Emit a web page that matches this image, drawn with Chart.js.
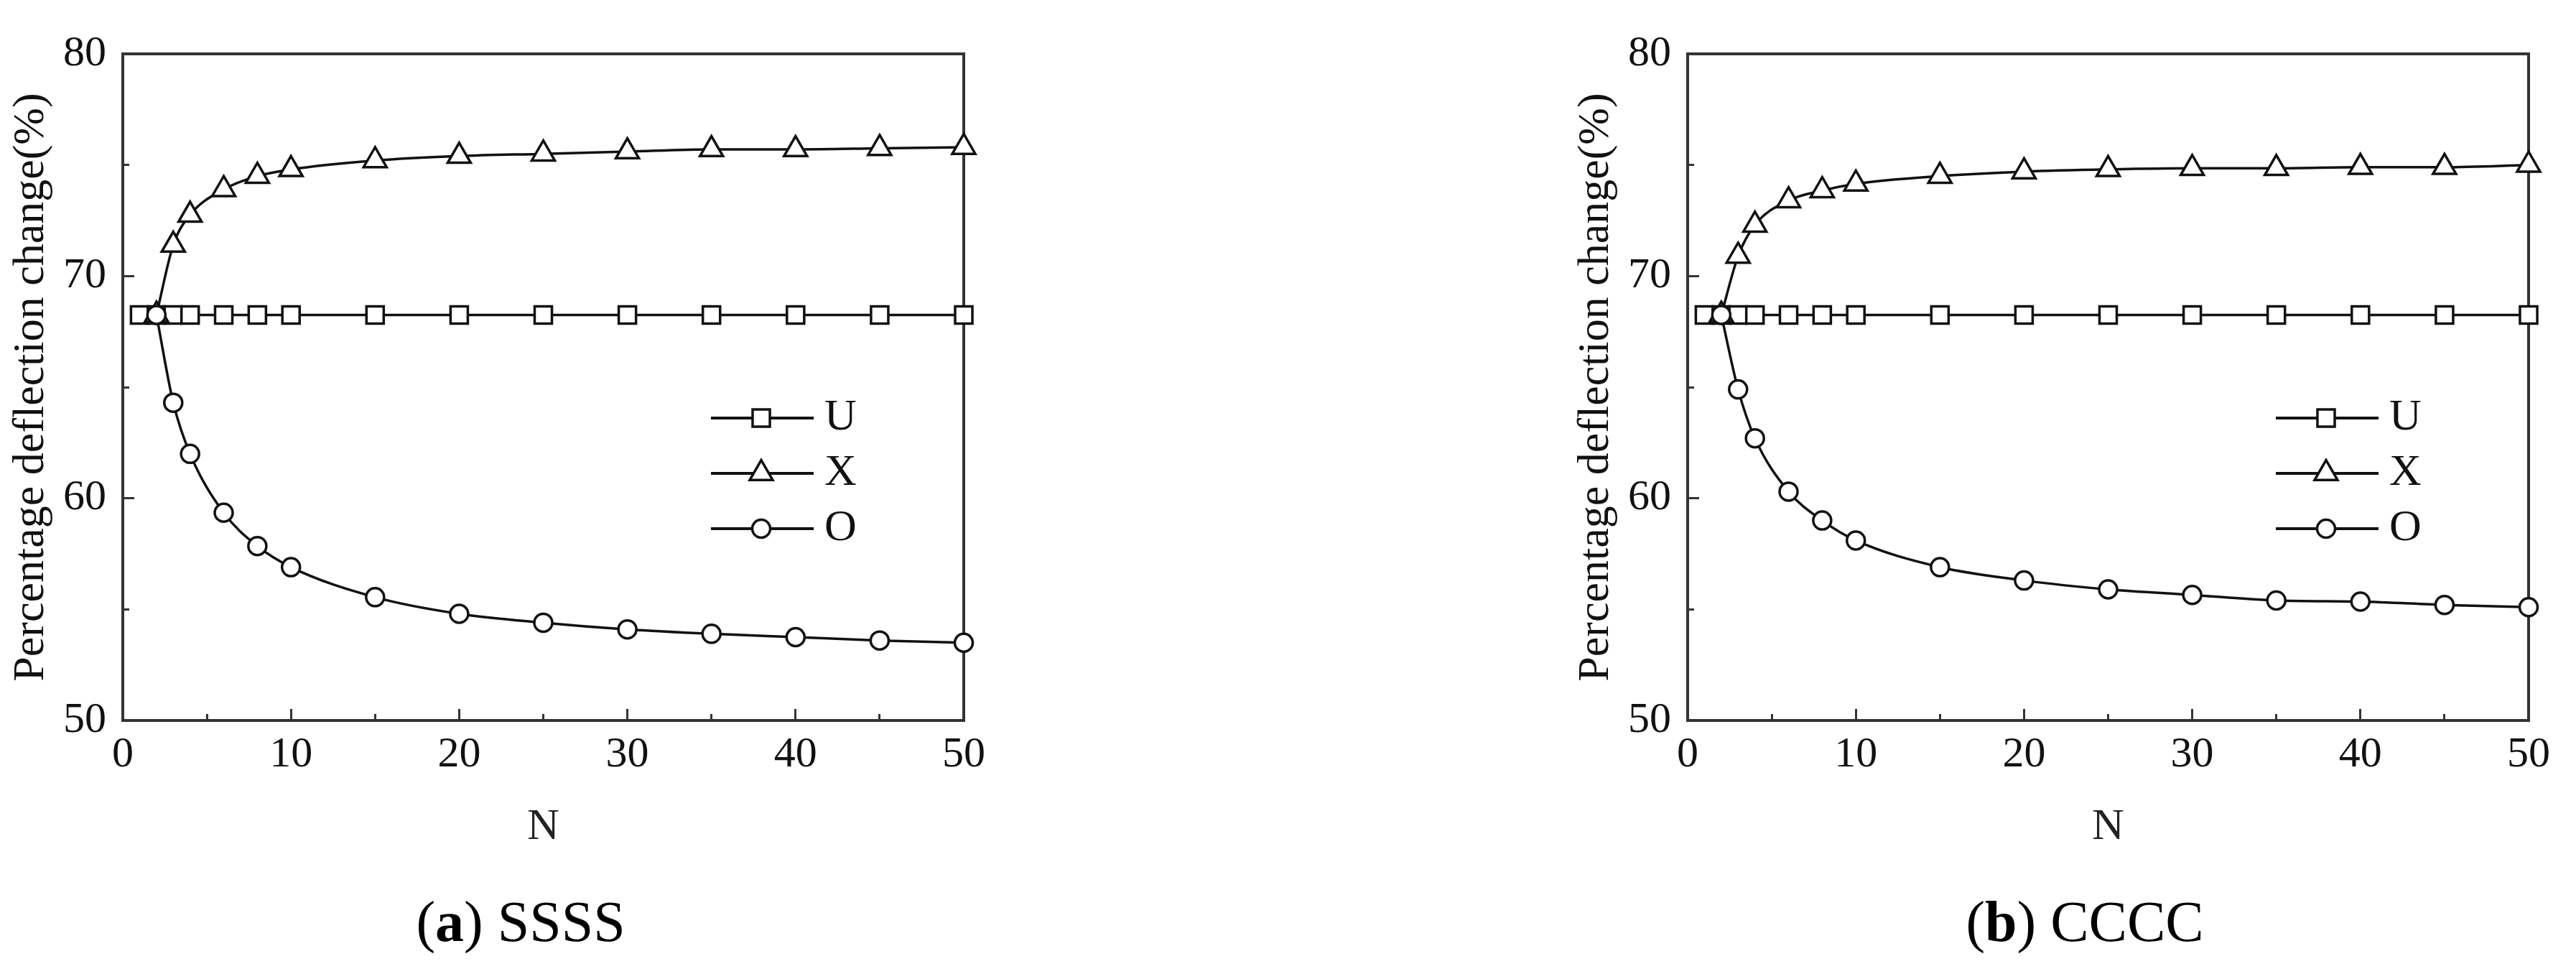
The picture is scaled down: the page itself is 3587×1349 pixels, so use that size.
<!DOCTYPE html>
<html>
<head>
<meta charset="utf-8">
<script src="https://cdn.jsdelivr.net/npm/chart.js@4/dist/chart.umd.min.js"></script>
<style>
  html, body { margin: 0; padding: 0; background: #fff; width: 3587px; height: 1349px; overflow: hidden; }
  canvas { position: absolute; top: 0; }
  .cap { position: absolute; top: 1243px; width: 700px; text-align: center;
         font-family: 'Liberation Serif', serif; font-size: 80px; line-height: 1; color: #000; }
</style>
</head>
<body>
<canvas id="c1" width="1400" height="1349" style="left:0px"></canvas>
<canvas id="c2" width="1400" height="1349" style="left:2179px"></canvas>
<div class="cap" style="left:375px">(<b>a</b>) SSSS</div>
<div class="cap" style="left:2553px">(<b>b</b>) CCCC</div>
<script>
// ---------------- data ----------------
const nU = [1, 2, 3, 4, 6, 8, 10, 15, 20, 25, 30, 35, 40, 45, 50];
const nXO = [2, 3, 4, 6, 8, 10, 15, 20, 25, 30, 35, 40, 45, 50];

const ssssU = [68.25, 68.25, 68.25, 68.25, 68.25, 68.25, 68.25, 68.25, 68.25, 68.25, 68.25, 68.25, 68.25, 68.25, 68.25];
const ssssX = [68.25, 71.4, 72.75, 73.9, 74.5, 74.8, 75.2, 75.4, 75.5, 75.6, 75.7, 75.7, 75.75, 75.8];
const ssssO = [68.25, 64.3, 62.0, 59.35, 57.85, 56.9, 55.55, 54.8, 54.4, 54.1, 53.9, 53.75, 53.6, 53.5];

const ccccU = [68.25, 68.25, 68.25, 68.25, 68.25, 68.25, 68.25, 68.25, 68.25, 68.25, 68.25, 68.25, 68.25, 68.25, 68.25];
const ccccX = [68.25, 70.9, 72.3, 73.4, 73.85, 74.15, 74.5, 74.7, 74.8, 74.85, 74.85, 74.9, 74.9, 75.0];
const ccccO = [68.25, 64.9, 62.7, 60.3, 59.0, 58.1, 56.9, 56.3, 55.9, 55.65, 55.4, 55.35, 55.2, 55.1];

const seriesNames = ['U', 'X', 'O'];
const xTicks = [0, 10, 20, 30, 40, 50];
const yTicks = [50, 60, 70, 80];
const xTitle = 'N';
const yTitle = 'Percentage deflection change(%)';

// ---------------- styles ----------------
const FONT = 'Liberation Serif';
const INK = '#111';
const markers = {
  U: { pointStyle: 'rect', radius: 17 },
  X: { pointStyle: 'triangle', radius: 18.5 },
  O: { pointStyle: 'circle', radius: 12.5 }
};

function pts(xs, ys) { return xs.map((x, i) => ({ x: x, y: ys[i] })); }

function makeDataset(name, xs, ys, order) {
  const m = markers[name];
  return {
    label: name,
    data: pts(xs, ys),
    order: order,
    borderColor: INK,
    borderWidth: 3.5,
    backgroundColor: '#fff',
    pointStyle: m.pointStyle,
    pointRadius: m.radius,
    pointBorderWidth: 3.5,
    pointBorderColor: INK,
    pointBackgroundColor: '#fff',
    cubicInterpolationMode: 'monotone',
    fill: false,
    clip: false
  };
}

const framePlugin = {
  id: 'frame',
  beforeDatasetsDraw(chart) {
    const a = chart.chartArea, ctx = chart.ctx;
    ctx.save();
    ctx.strokeStyle = '#333';
    ctx.lineWidth = 4;
    ctx.strokeRect(a.left, a.top, a.right - a.left, a.bottom - a.top);
    ctx.restore();
  }
};

const legendPlugin = {
  id: 'innerLegend',
  afterDraw(chart) {
    const a = chart.chartArea, ctx = chart.ctx;
    const x0 = a.left + 819, x1 = a.left + 962, xm = a.left + 889, xt = a.left + 977;
    const rows = [507, 584, 661];
    ctx.save();
    seriesNames.forEach((name, i) => {
      const y = a.top + rows[i];
      ctx.strokeStyle = INK;
      ctx.lineWidth = 4;
      ctx.beginPath();
      ctx.moveTo(x0, y);
      ctx.lineTo(x1, y);
      ctx.stroke();
      ctx.fillStyle = '#fff';
      ctx.lineWidth = 3.5;
      Chart.helpers.drawPoint(ctx, { pointStyle: markers[name].pointStyle, radius: markers[name].radius, rotation: 0, borderWidth: 3.5 }, xm, y);
      ctx.fillStyle = INK;
      ctx.font = '62px "' + FONT + '"';
      ctx.textAlign = 'left';
      ctx.textBaseline = 'middle';
      ctx.fillText(name, xt, y);
    });
    ctx.restore();
  }
};

function fixW(w) { return s => { s.width = w; }; }
function fixH(h) { return s => { s.height = h; }; }

function makeChart(id, u, xv, ov) {
  const ctx = document.getElementById(id);
  return new Chart(ctx, {
    type: 'line',
    data: {
      datasets: [
        makeDataset('U', nU, u, 2),
        makeDataset('X', nXO, xv, 1),
        makeDataset('O', nXO, ov, 0)
      ]
    },
    plugins: [framePlugin, legendPlugin],
    options: {
      responsive: false,
      animation: false,
      devicePixelRatio: 1,
      layout: { padding: { left: 0, top: 59, right: 55, bottom: 146 } },
      plugins: { legend: { display: false }, tooltip: { enabled: false }, title: { display: false } },
      scales: {
        x: {
          type: 'linear', position: 'bottom', weight: 1,
          min: xTicks[0], max: xTicks[xTicks.length - 1],
          afterBuildTicks: s => { s.ticks = xTicks.map(v => ({ value: v })); },
          afterFit: fixH(200),
          border: { display: false },
          grid: { drawOnChartArea: false, drawTicks: true, tickLength: -16, tickWidth: 3, tickColor: '#333' },
          ticks: { autoSkip: false, maxRotation: 0, padding: 28, color: INK, font: { family: FONT, size: 60 } },
          title: { display: true, text: xTitle, color: '#222', font: { family: FONT, size: 62 }, padding: { top: 0, bottom: 14 } }
        },
        xMinor: {
          type: 'linear', position: 'bottom', weight: 0,
          min: xTicks[0], max: xTicks[xTicks.length - 1],
          ticks: { display: false, stepSize: 5 },
          afterFit: fixH(0),
          border: { display: false },
          grid: { drawOnChartArea: false, drawTicks: true, tickLength: -9, tickWidth: 3,
                  tickColor: c => (c.tick && c.tick.value % 10 === 0) ? 'rgba(0,0,0,0)' : '#333' }
        },
        y: {
          type: 'linear', position: 'left', weight: 1,
          min: yTicks[0], max: yTicks[yTicks.length - 1],
          afterBuildTicks: s => { s.ticks = yTicks.map(v => ({ value: v })); },
          afterFit: fixW(171),
          border: { display: false },
          grid: { drawOnChartArea: false, drawTicks: true, tickLength: -16, tickWidth: 3, tickColor: '#333' },
          ticks: { autoSkip: false, padding: 39, color: INK, font: { family: FONT, size: 60 } },
          title: { display: true, text: yTitle, color: INK, font: { family: FONT, size: 62 }, padding: { top: 7, bottom: 0 } }
        },
        yMinor: {
          type: 'linear', position: 'left', weight: 0,
          min: yTicks[0], max: yTicks[yTicks.length - 1],
          ticks: { display: false, stepSize: 5 },
          afterFit: fixW(0),
          border: { display: false },
          grid: { drawOnChartArea: false, drawTicks: true, tickLength: -9, tickWidth: 3,
                  tickColor: c => (c.tick && c.tick.value % 10 === 0) ? 'rgba(0,0,0,0)' : '#333' }
        }
      }
    }
  });
}

makeChart('c1', ssssU, ssssX, ssssO);
makeChart('c2', ccccU, ccccX, ccccO);
</script>
</body>
</html>
